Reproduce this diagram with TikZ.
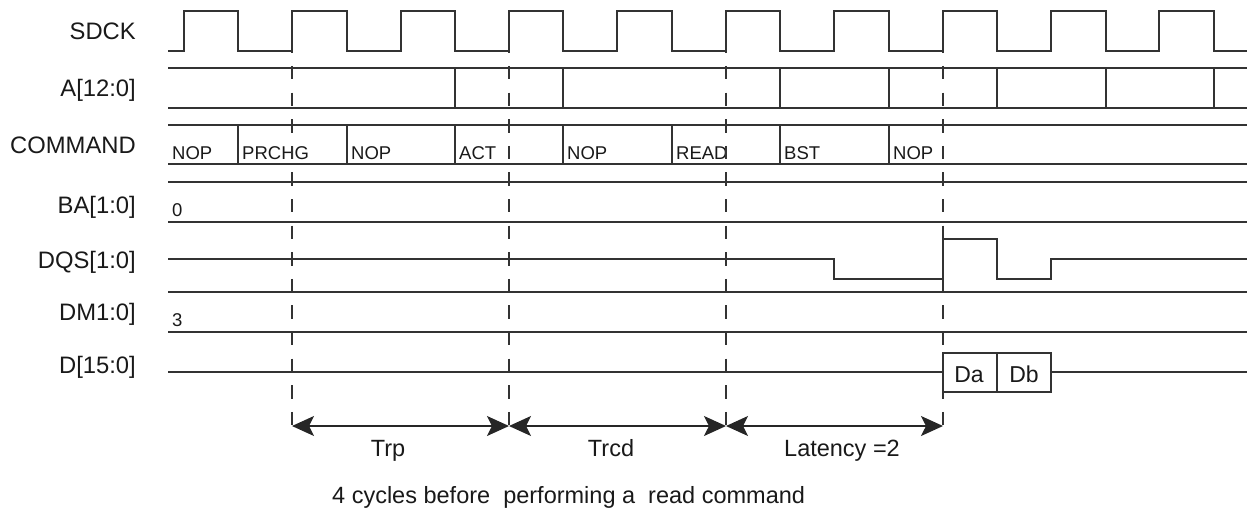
\documentclass[tikz,border=0pt]{standalone}
\usepackage{fontspec}
\setmainfont{Liberation Sans}
\usetikzlibrary{arrows.meta}
\begin{document}
\begin{tikzpicture}[x=1pt,y=-1pt,
  sig/.style={line width=1.3pt, draw=black!80},
  guide/.style={line width=1.1pt, draw=black!80, dash pattern=on 13.3pt off 13.3pt},
  span/.style={line width=1.3pt, draw=black!85,
    {Stealth[length=22pt,width=20pt,inset=5pt]}-{Stealth[length=22pt,width=20pt,inset=5pt]}},
  lbl/.style={anchor=base east, inner sep=0pt, font=\fontsize{23.8}{28}\selectfont, text=black!90},
  cmdtxt/.style={anchor=base west, inner sep=0pt, font=\fontsize{18.5}{22}\selectfont, text=black!90},
  datatxt/.style={anchor=base, inner sep=0pt, font=\fontsize{23}{27}\selectfont, text=black!90},
  bottxt/.style={inner sep=0pt, font=\fontsize{23.5}{28}\selectfont, text=black!90}
]
\useasboundingbox (0,0) rectangle (1249,508);

% signal names
\node[lbl] (sdck) at (136,39.3) {SDCK};
\node[lbl] (addr) at (136,96.7) {A[12:0]};
\node[lbl] (cmd)  at (136,153.3) {COMMAND};
\node[lbl] (ba)   at (136,213.3) {BA[1:0]};
\node[lbl] (dqs)  at (136,268.3) {DQS[1:0]};
\node[lbl] (dm)   at (136,320.7) {DM1:0]};
\node[lbl] (dq)   at (136,373.3) {D[15:0]};

% clock
\draw[sig] (168,51) -- (184,51) |- (238,11) |- (292,51) |- (347,11) |- (401,51)
  |- (455,11) |- (509,51) |- (563,11) |- (617,51) |- (672,11) |- (726,51)
  |- (780,11) |- (834,51) |- (889,11) |- (943,51) |- (997,11) |- (1051,51)
  |- (1106,11) |- (1159,51) |- (1214,11) |- (1247,51);

% address bus
\draw[sig] (168,68) -- (1247,68);
\draw[sig] (168,108) -- (1247,108);
\foreach \x in {455,563,780,889,997,1106,1214}
  \draw[sig] (\x,68) -- (\x,108);

% command bus
\draw[sig] (168,125) -- (1247,125);
\draw[sig] (168,164) -- (1247,164);
\foreach \x in {238,347,455,563,672,780,889}
  \draw[sig] (\x,125) -- (\x,164);
\node[cmdtxt] (c1) at (172,159) {NOP};
\node[cmdtxt] (c2) at (242,159) {PRCHG};
\node[cmdtxt] (c3) at (351,159) {NOP};
\node[cmdtxt] (c4) at (459,159) {ACT};
\node[cmdtxt] (c5) at (567,159) {NOP};
\node[cmdtxt] (c6) at (676,159) {READ};
\node[cmdtxt] (c7) at (784,159) {BST};
\node[cmdtxt] (c8) at (893,159) {NOP};

% BA
\draw[sig] (168,182) -- (1247,182);
\draw[sig] (168,222) -- (1247,222);
\node[cmdtxt] (bav) at (172,216) {0};

% DQS
\draw[sig] (168,259) -- (834,259) -- (834,279) -- (943,279) -- (943,239)
  -- (997,239) -- (997,279) -- (1051,279) -- (1051,259) -- (1247,259);

% DM
\draw[sig] (168,292) -- (1247,292);
\draw[sig] (168,332) -- (1247,332);
\node[cmdtxt] (dmv) at (172,326) {3};

% data
\draw[sig] (168,372) -- (943,372);
\draw[sig] (943,353) rectangle (1051,392);
\draw[sig] (997,353) -- (997,392);
\draw[sig] (1051,372) -- (1247,372);
\node[datatxt] (da) at (969,382) {Da};
\node[datatxt] (db) at (1024,382) {Db};

% guide lines
\coordinate (g1) at (292,426);
\coordinate (g2) at (509,426);
\coordinate (g3) at (726,426);
\coordinate (g4) at (943,426);
\foreach \g/\x in {g1/292,g2/509,g3/726,g4/943}
  \draw[guide] (\x,39.4) -- (\g);

% spans
\draw[span] (g1) -- (g2);
\draw[span] (g2) -- (g3);
\draw[span] (g3) -- (g4);
\node[bottxt, anchor=base] (trp) at (388,456.5) {Trp};
\node[bottxt, anchor=base] (trcd) at (611,456.5) {Trcd};
\node[bottxt, anchor=base] (lat) at (842,456.5) {Latency =2};
\node[bottxt, anchor=base west] (note) at (332,503) {4 cycles before\ \ performing a\ \ read command};
\end{tikzpicture}
\end{document}
